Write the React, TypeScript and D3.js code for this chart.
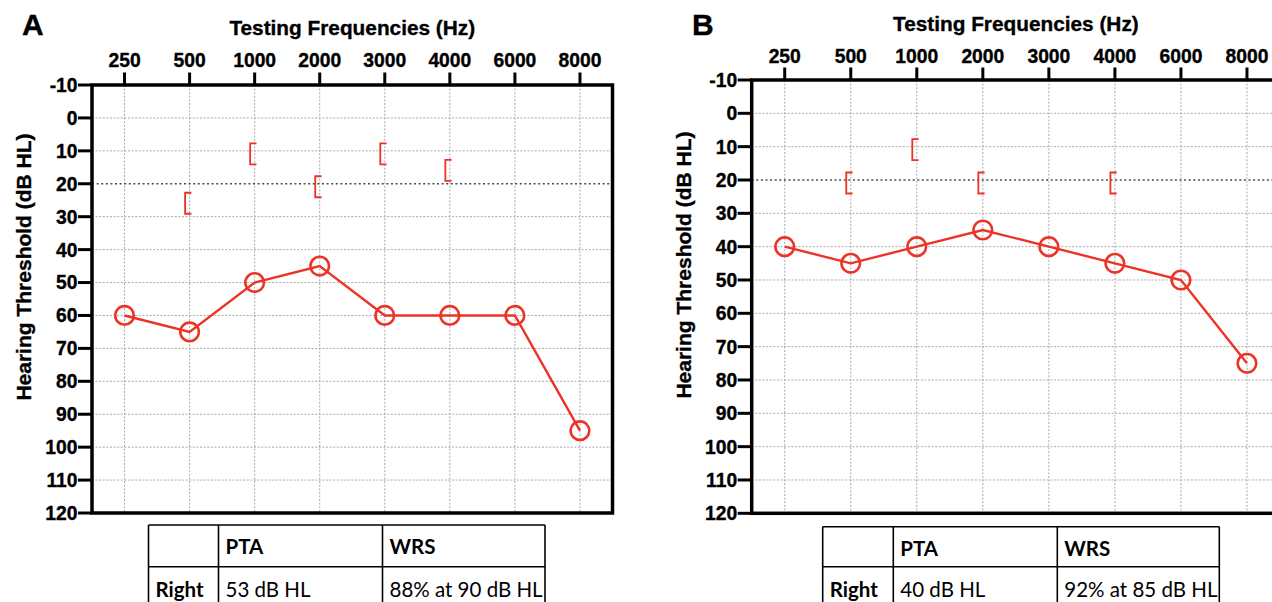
import React from "react";
import * as d3 from "d3";

const frequencies = ["250", "500", "1000", "2000", "3000", "4000", "6000", "8000"];
const yTicks = [-10, 0, 10, 20, 30, 40, 50, 60, 70, 80, 90, 100, 110, 120];

const airA = [60, 65, 50, 45, 60, 60, 60, 95];
const boneFreqA = ["500", "1000", "2000", "3000", "4000"];
const boneA = [25, 10, 20, 10, 15];

const airB = [40, 45, 40, 35, 40, 45, 50, 75];
const boneFreqB = ["500", "1000", "2000", "4000"];
const boneB = [20, 10, 20, 20];

const tableHeader = ["", "PTA", "WRS"];
const rowA = ["Right", "53 dB HL", "88% at 90 dB HL"];
const rowB = ["Right", "40 dB HL", "92% at 85 dB HL"];

const RED = "#ec3326";
const AX_FONT = "'Liberation Sans', Arial, sans-serif";
const TB_FONT = "Lato, 'Open Sans', sans-serif";

type PanelProps = {
  letter: string;
  letterX: number;
  letterY: number;
  left: number;
  right: number;
  top: number;
  bottom: number;
  titleY: number;
  tickLabelY: number;
  ylabelX: number;
  ylabelY: number;
  air: number[];
  boneFreq: string[];
  bone: number[];
  table: { cols: number[]; top: number; mid: number; header: string[]; row: string[] };
};

const boldText = { fontFamily: AX_FONT, fontWeight: "bold" as const, stroke: "#000", strokeWidth: 0.35 };

function Panel(p: PanelProps) {
  const x = d3.scalePoint<string>().domain(frequencies).range([p.left, p.right]).padding(0.5);
  const y = d3.scaleLinear().domain([-10, 120]).range([p.top, p.bottom]);
  const line = d3
    .line<number>()
    .x((_, i) => x(frequencies[i]) as number)
    .y((d) => y(d));
  const cx = (p.left + p.right) / 2;
  const t = p.table;
  return (
    <g>
      <text x={p.letterX} y={p.letterY} {...boldText} fontSize={30}>
        {p.letter}
      </text>
      <text x={cx} y={p.titleY} textAnchor="middle" {...boldText} fontSize={20.8}>
        Testing Frequencies (Hz)
      </text>
      <text
        transform={`translate(${p.ylabelX},${p.ylabelY}) rotate(-90)`}
        textAnchor="middle"
        {...boldText}
        fontSize={21}
      >
        Hearing Threshold (dB HL)
      </text>
      {/* grid */}
      {frequencies.map((f) => (
        <line key={"gx" + f} x1={x(f)} x2={x(f)} y1={p.top} y2={p.bottom} stroke="#a0a0a0" strokeWidth={0.9} strokeDasharray="2,1.6" />
      ))}
      {yTicks.slice(1, -1).filter((v) => v !== 20).map((v) => (
        <line key={"gy" + v} x1={p.left} x2={p.right} y1={y(v)} y2={y(v)} stroke="#a0a0a0" strokeWidth={0.9} strokeDasharray="2,1.6" />
      ))}
      <line x1={p.left} x2={p.right} y1={y(20)} y2={y(20)} stroke="#4a4a4a" strokeWidth={1.7} strokeDasharray="2,2.6" />
      {/* frame */}
      <rect x={p.left} y={p.top} width={p.right - p.left} height={p.bottom - p.top} fill="none" stroke="#000" strokeWidth={3.5} />
      {/* top ticks */}
      {frequencies.map((f) => (
        <g key={"tx" + f}>
          <line x1={x(f)} x2={x(f)} y1={p.top} y2={p.top - 12.5} stroke="#000" strokeWidth={3} />
          <text x={x(f)} y={p.tickLabelY} textAnchor="middle" {...boldText} fontSize={19.3}>
            {f}
          </text>
        </g>
      ))}
      {/* left ticks */}
      {yTicks.map((v) => (
        <g key={"ty" + v}>
          <line x1={p.left} x2={p.left - 14} y1={y(v)} y2={y(v)} stroke="#000" strokeWidth={3} />
          <text x={p.left - 14.5} y={y(v)} dy="0.36em" textAnchor="end" {...boldText} fontSize={19.3}>
            {v}
          </text>
        </g>
      ))}
      {/* bone conduction brackets */}
      {p.boneFreq.map((f, i) => {
        const bx = x(f) as number;
        const by = y(p.bone[i]) + 3;
        return (
          <path
            key={"b" + f}
            d={`M${bx + 1.8},${by - 10.5} H${bx - 4.5} V${by + 10.5} H${bx + 1.8}`}
            fill="none"
            stroke={RED}
            strokeWidth={1.8}
          />
        );
      })}
      {/* air conduction */}
      <path d={line(p.air) || ""} fill="none" stroke={RED} strokeWidth={2.4} />
      {p.air.map((v, i) => (
        <circle key={"c" + i} cx={x(frequencies[i])} cy={y(v)} r={9.3} fill="none" stroke={RED} strokeWidth={2.6} />
      ))}
      {/* table */}
      <g stroke="#000" strokeWidth={1.6}>
        <line x1={t.cols[0]} x2={t.cols[3]} y1={t.top} y2={t.top} />
        <line x1={t.cols[0]} x2={t.cols[3]} y1={t.mid} y2={t.mid} />
        {t.cols.map((c, i) => (
          <line key={"tc" + i} x1={c} x2={c} y1={t.top} y2={610} />
        ))}
      </g>
      {t.header.map((h, i) => (
        <text key={"th" + i} x={t.cols[i] + 7} y={t.top + 29} fontFamily={TB_FONT} fontWeight="bold" fontSize={20.5}>
          {h}
        </text>
      ))}
      {t.row.map((h, i) => (
        <text key={"tr" + i} x={t.cols[i] + 7} y={t.mid + 30} fontFamily={TB_FONT} fontWeight={i === 0 ? "bold" : "normal"} fontSize={20.5}>
          {h}
        </text>
      ))}
    </g>
  );
}

export default function App() {
  return (
    <svg width={1272} height={602} style={{ position: "absolute", left: 0, top: 0, background: "#fff" }}>
      <rect width={1272} height={602} fill="#fff" />
      <Panel
        letter="A"
        letterX={22}
        letterY={35}
        left={92}
        right={612.5}
        top={85}
        bottom={513}
        titleY={35}
        tickLabelY={66.5}
        ylabelX={30.5}
        ylabelY={267}
        air={airA}
        boneFreq={boneFreqA}
        bone={boneA}
        table={{ cols: [148.5, 218.5, 382.5, 545], top: 525, mid: 566.7, header: tableHeader, row: rowA }}
      />
      <Panel
        letter="B"
        letterX={692}
        letterY={35}
        left={751.7}
        right={1280}
        top={80}
        bottom={513.3}
        titleY={31}
        tickLabelY={63}
        ylabelX={690.5}
        ylabelY={265}
        air={airB}
        boneFreq={boneFreqB}
        bone={boneB}
        table={{ cols: [822.7, 893.3, 1057.3, 1219.3], top: 526.7, mid: 566.7, header: tableHeader, row: rowB }}
      />
    </svg>
  );
}
